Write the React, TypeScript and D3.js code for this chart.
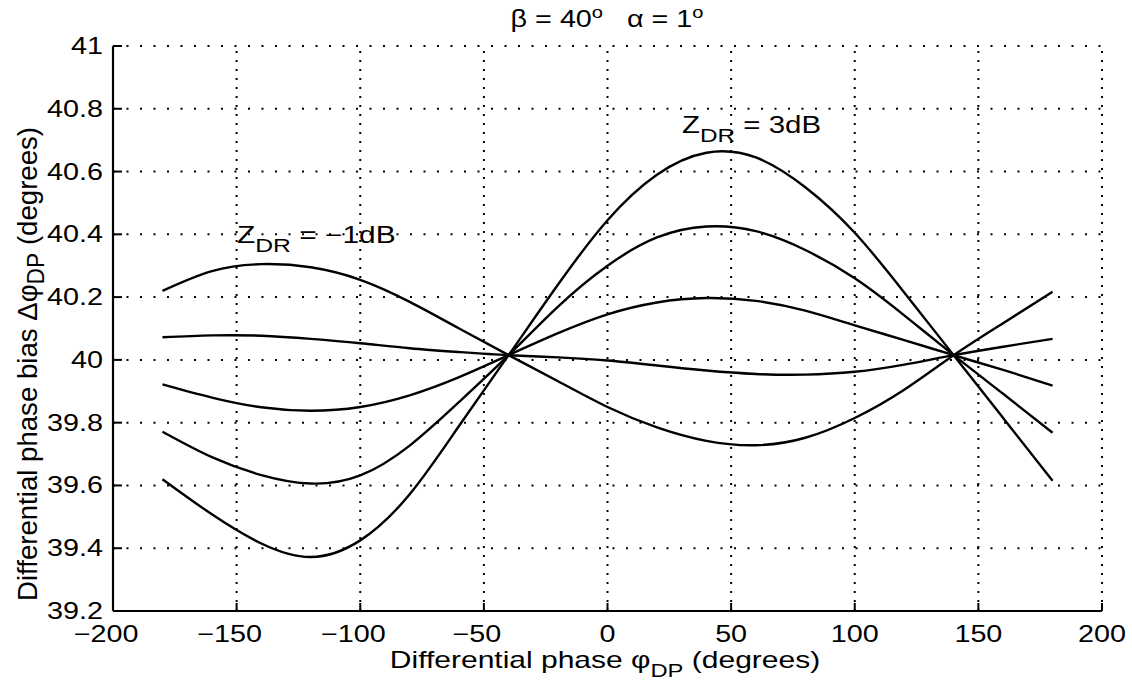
import React from "react";
import * as d3 from "d3";

const W = 1132;
const H = 683;
const SX = 1.25;
const FONT = "'Liberation Sans', Arial, Helvetica, sans-serif";

const phiDP = [-180, -160, -140, -120, -100, -80, -60, -40, -20, 0, 20, 40, 60, 80, 100, 120, 140, 160, 180];

// Z_DR = -1 dB
const bias1 = [40.22, 40.283, 40.305, 40.295, 40.255, 40.185, 40.1, 40.015, 39.932, 39.85, 39.785, 39.742, 39.728, 39.752, 39.815, 39.905, 40.015, 40.117, 40.217];
const bias2 = [40.072, 40.078, 40.077, 40.067, 40.053, 40.037, 40.025, 40.015, 40.008, 39.998, 39.982, 39.966, 39.955, 39.953, 39.962, 39.985, 40.015, 40.042, 40.067];
const bias3 = [39.922, 39.88, 39.849, 39.838, 39.85, 39.887, 39.945, 40.015, 40.085, 40.145, 40.183, 40.197, 40.188, 40.157, 40.11, 40.063, 40.015, 39.968, 39.918];
const bias4 = [39.771, 39.69, 39.633, 39.606, 39.632, 39.727, 39.866, 40.015, 40.17, 40.3, 40.39, 40.425, 40.41, 40.35, 40.26, 40.142, 40.015, 39.892, 39.768];
// Z_DR = 3 dB
const bias5 = [39.62, 39.508, 39.415, 39.372, 39.425, 39.572, 39.79, 40.015, 40.24, 40.445, 40.59, 40.66, 40.645, 40.55, 40.405, 40.215, 40.015, 39.815, 39.615];

const series = [bias1, bias2, bias3, bias4, bias5];

const xTicks = [-200, -150, -100, -50, 0, 50, 100, 150, 200];
const yTicks = [39.2, 39.4, 39.6, 39.8, 40, 40.2, 40.4, 40.6, 40.8, 41];

const fmt = (v: number) => {
  const s = Number.isInteger(v) ? String(v) : v.toFixed(1);
  return s.replace("-", "\u2212");
};

function T({ x, y, anchor = "start", size = 23, sx = SX, children }: any) {
  return (
    <g transform={`translate(${x},${y}) scale(${sx},1)`}>
      <text textAnchor={anchor} fontSize={size} fontFamily={FONT} fill="#000" style={{ whiteSpace: "pre" }}>
        {children}
      </text>
    </g>
  );
}

export default function App() {
  const x = d3.scaleLinear().domain([-200, 200]).range([113, 1102]);
  const y = d3.scaleLinear().domain([39.2, 41]).range([611, 46]);
  const line = d3
    .line<number>()
    .x((_, i) => x(phiDP[i]))
    .y((d) => y(d))
    .curve(d3.curveNatural);

  const [x0, x1] = x.range();
  const [y0, y1] = y.range();

  return (
    <svg
      width={W}
      height={H}
      style={{ position: "absolute", left: 0, top: 0, background: "#fff" }}
    >
      <rect x={0} y={0} width={W} height={H} fill="#fff" />
      {/* grid */}
      {xTicks.slice(1).map((t) => (
        <line key={"gx" + t} x1={x(t)} x2={x(t)} y1={y0} y2={y1} stroke="#000" strokeWidth={2} strokeDasharray="2 7" />
      ))}
      {yTicks.slice(1).map((t) => (
        <line key={"gy" + t} x1={x0} x2={x1} y1={y(t)} y2={y(t)} stroke="#000" strokeWidth={2} strokeDasharray="2 11.5" />
      ))}
      {/* axes */}
      <line x1={x0} x2={x1} y1={y0} y2={y0} stroke="#000" strokeWidth={2.2} />
      <line x1={x0} x2={x0} y1={y0} y2={y1} stroke="#000" strokeWidth={2.2} />
      {xTicks.map((t) => (
        <line key={"tx" + t} x1={x(t)} x2={x(t)} y1={y0} y2={y0 - 8} stroke="#000" strokeWidth={2} />
      ))}
      {yTicks.map((t) => (
        <line key={"ty" + t} x1={x0} x2={x0 + 9} y1={y(t)} y2={y(t)} stroke="#000" strokeWidth={2} />
      ))}
      {/* tick labels */}
      {xTicks.map((t) => (
        <T key={"lx" + t} x={x(t) - (t < 0 ? 7 : 0)} y={642} anchor="middle">{fmt(t)}</T>
      ))}
      {yTicks.map((t) => (
        <T key={"ly" + t} x={103} y={y(t) + 8} anchor="end">{fmt(t)}</T>
      ))}
      {/* curves */}
      {series.map((s, i) => (
        <path key={"c" + i} d={line(s) || ""} fill="none" stroke="#000" strokeWidth={2.4} />
      ))}
      {/* title */}
      <T x={607} y={27} anchor="middle" size={23}>
        {"\u03b2 = 40"}
        <tspan fontSize={16} dy={-9}>o</tspan>
        <tspan dy={9}>{"\u00a0\u00a0\u00a0\u03b1 = 1"}</tspan>
        <tspan fontSize={16} dy={-9}>o</tspan>
      </T>
      {/* annotations */}
      <T x={237} y={243} size={23} sx={1.3}>
        {"Z"}
        <tspan fontSize={19} dy={9}>DR</tspan>
        <tspan dy={-9}>{" = \u22121dB"}</tspan>
      </T>
      <T x={682} y={133} size={23} sx={1.28}>
        {"Z"}
        <tspan fontSize={19} dy={9}>DR</tspan>
        <tspan dy={-9}>{" = 3dB"}</tspan>
      </T>
      {/* axis labels */}
      <T x={605} y={668} anchor="middle" size={24}>
        {"Differential phase \u03c6"}
        <tspan fontSize={19} dy={9}>DP</tspan>
        <tspan dy={-9}>{" (degrees)"}</tspan>
      </T>
      <g transform={`translate(37,364) rotate(-90) scale(1.2,1.22)`}>
        <text textAnchor="middle" fontSize={23} fontFamily={FONT} fill="#000">
          {"Differential phase bias \u0394\u03c6"}
          <tspan fontSize={19} dy={6}>DP</tspan>
          <tspan dy={-6}>{" (degrees)"}</tspan>
        </text>
      </g>
    </svg>
  );
}
